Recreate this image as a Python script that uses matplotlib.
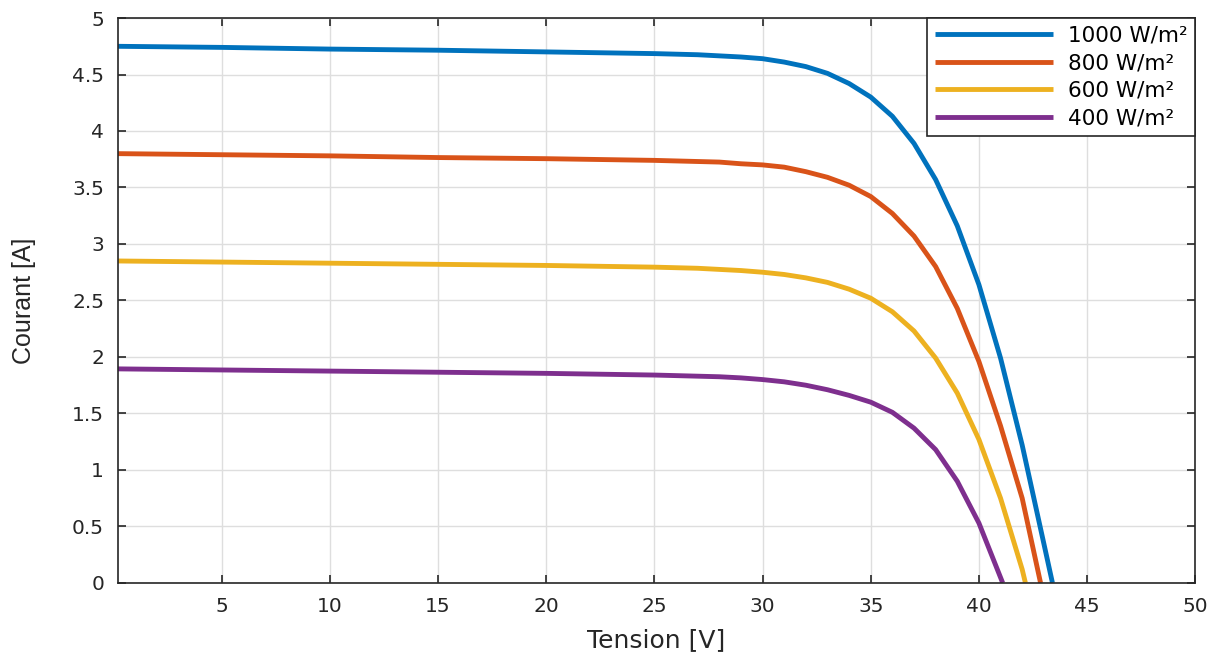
import matplotlib.pyplot as plt
import numpy as np

# irradiance levels
labels = ['1000 W/m²', '800 W/m²', '600 W/m²', '400 W/m²']
colors = ['#0072BD', '#D95319', '#EDB120', '#7E2F8E']

# tension [V] / courant [A]
v_1000 = [0, 5, 10, 15, 20, 25, 27, 28, 29, 30, 31, 32, 33, 34, 35, 36, 37, 38, 39, 40, 41, 42, 43, 43.4]
i_1000 = [4.75, 4.74, 4.725, 4.715, 4.70, 4.685, 4.675, 4.665, 4.655, 4.64, 4.61, 4.57, 4.51, 4.42,
          4.30, 4.13, 3.89, 3.57, 3.16, 2.64, 1.99, 1.22, 0.35, 0.0]

v_800 = [0, 5, 10, 15, 20, 25, 27, 28, 29, 30, 31, 32, 33, 34, 35, 36, 37, 38, 39, 40, 41, 42, 42.85]
i_800 = [3.80, 3.79, 3.78, 3.765, 3.755, 3.74, 3.73, 3.725, 3.71, 3.70, 3.68, 3.64, 3.59, 3.52,
         3.42, 3.27, 3.07, 2.80, 2.43, 1.96, 1.39, 0.75, 0.0]

v_600 = [0, 5, 10, 15, 20, 25, 27, 28, 29, 30, 31, 32, 33, 34, 35, 36, 37, 38, 39, 40, 41, 42, 42.15]
i_600 = [2.85, 2.84, 2.83, 2.82, 2.81, 2.795, 2.785, 2.775, 2.765, 2.75, 2.73, 2.70, 2.66, 2.60,
         2.52, 2.40, 2.23, 1.99, 1.68, 1.27, 0.75, 0.12, 0.0]

v_400 = [0, 5, 10, 15, 20, 25, 27, 28, 29, 30, 31, 32, 33, 34, 35, 36, 37, 38, 39, 40, 41.1]
i_400 = [1.895, 1.885, 1.875, 1.865, 1.855, 1.84, 1.83, 1.825, 1.815, 1.80, 1.78, 1.75, 1.71, 1.66,
         1.60, 1.51, 1.37, 1.18, 0.90, 0.53, 0.0]

x_ticks = [5, 10, 15, 20, 25, 30, 35, 40, 45, 50]
y_ticks = [0, 0.5, 1, 1.5, 2, 2.5, 3, 3.5, 4, 4.5, 5]
y_ticklabels = ['0', '0.5', '1', '1.5', '2', '2.5', '3', '3.5', '4', '4.5', '5']

fig = plt.figure(figsize=(12.2, 6.55), dpi=100)
ax = fig.add_axes([0.0967, 0.110, 0.883, 0.8625])

curves = [(v_1000, i_1000), (v_800, i_800), (v_600, i_600), (v_400, i_400)]
for (v, i), lab, col in zip(curves, labels, colors):
    ax.plot(v, i, color=col, lw=3.5, label=lab, solid_capstyle='butt')

ax.set_xlim(0.2, 50)
ax.set_ylim(0, 5)
ax.set_xticks(x_ticks)
ax.set_yticks(y_ticks)
ax.set_yticklabels(y_ticklabels)
ax.tick_params(direction='in', length=6, width=1.2, top=True, right=True,
               labelsize=14.5, colors='#262626', pad=10)
for s in ax.spines.values():
    s.set_color('#262626')
    s.set_linewidth(1.2)
ax.grid(True, color='#dedede', lw=1)
ax.set_axisbelow(True)

ax.set_xlabel('Tension [V]', fontsize=18, color='#262626', labelpad=9)
ax.set_ylabel('Courant [A]', fontsize=18, color='#262626', family='Liberation Sans')
ax.yaxis.set_label_coords(-0.076, 0.5)

leg = ax.legend(loc='upper right', fontsize=15.5, handlelength=5.5, borderaxespad=0,
                fancybox=False, edgecolor='#262626', framealpha=1,
                borderpad=0.35, labelspacing=0.35, handletextpad=0.7, handleheight=0.7)
leg.get_frame().set_linewidth(1.2)

fig.savefig('out.png', dpi=100)
